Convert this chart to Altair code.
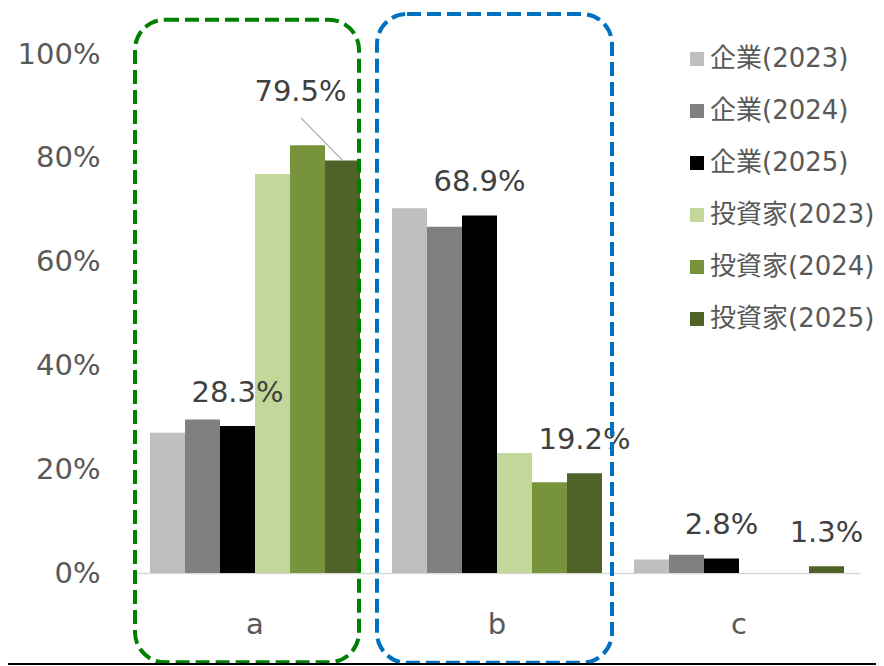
import altair as alt
import pandas as pd

categories = ["a", "b", "c"]
series = ["企業(2023)", "企業(2024)", "企業(2025)", "投資家(2023)", "投資家(2024)", "投資家(2025)"]
colors = ["#BFBFBF", "#808080", "#000000", "#C4D79B", "#77933C", "#4F6228"]

corp_2023 = [0.270, 0.703, 0.026]
corp_2024 = [0.296, 0.667, 0.035]
corp_2025 = [0.283, 0.689, 0.028]
inv_2023 = [0.769, 0.231, 0.0]
inv_2024 = [0.824, 0.175, 0.0]
inv_2025 = [0.795, 0.192, 0.013]

y_ticks = [0, 0.2, 0.4, 0.6, 0.8, 1.0]

series_values = [corp_2023, corp_2024, corp_2025, inv_2023, inv_2024, inv_2025]
rows = []
for s, vals in zip(series, series_values):
    for c, v in zip(categories, vals):
        rows.append({"cat": c, "series": s, "value": v})
df = pd.DataFrame(rows)

FONT = "DejaVu Sans, Noto Sans CJK JP"

x_enc = alt.X("cat:N", sort=categories, title=None,
              scale=alt.Scale(paddingInner=0, paddingOuter=0),
              axis=alt.Axis(labelAngle=0, ticks=False, labelPadding=60,
                            labelBaseline="alphabetic", domainColor="#D9D9D9",
                            domainWidth=1.5, labelFontSize=29, labelColor="#595959",
                            labelFont=FONT))
xoff_enc = alt.XOffset("series:N", sort=series,
                       scale=alt.Scale(paddingInner=0, paddingOuter=0.457))
y_enc = alt.Y("value:Q", title=None,
              scale=alt.Scale(domain=[0, 1], nice=False, zero=True),
              axis=alt.Axis(values=y_ticks, format=".0%", ticks=False, domain=False,
                            grid=False, labelPadding=34, labelFontSize=29,
                            labelColor="#595959", labelFont=FONT))

bars = alt.Chart(df).mark_bar().encode(
    x=x_enc,
    xOffset=xoff_enc,
    y=y_enc,
    color=alt.Color("series:N", sort=series,
                    scale=alt.Scale(domain=series, range=colors),
                    legend=alt.Legend(orient="none", legendX=550, legendY=-8, title=None,
                                      symbolType="square", symbolSize=196,
                                      symbolStrokeWidth=0, symbolOpacity=1,
                                      labelFontSize=26, labelColor="#595959",
                                      labelFont=FONT, rowPadding=26, labelOffset=0,
                                      labelLimit=0, padding=0)),
)

label_series = ["企業(2025)", "投資家(2025)"]
lab_df = df[df["series"].isin(label_series) & ~((df["cat"] == "a") & (df["series"] == "投資家(2025)"))]
labels = alt.Chart(lab_df).mark_text(
    fontSize=29, color="#404040", font=FONT, baseline="alphabetic", dy=-24
).encode(
    x=alt.X("cat:N", sort=categories),
    xOffset=alt.XOffset("series:N", sort=series),
    y="value:Q",
    text=alt.Text("value:Q", format=".1%"),
)

special_df = df[(df["cat"] == "a") & (df["series"] == "投資家(2025)")]
special_label = alt.Chart(special_df).mark_text(
    fontSize=29, color="#404040", font=FONT, baseline="alphabetic", dx=-42, dy=-59
).encode(
    x=alt.X("cat:N", sort=categories),
    xOffset=alt.XOffset("series:N", sort=series),
    y="value:Q",
    text=alt.Text("value:Q", format=".1%"),
)
leader = alt.Chart(special_df).mark_rule(color="#A6A6A6", strokeWidth=1.2).encode(
    x=alt.X("cat:N", sort=categories),
    xOffset=alt.XOffset("series:N", sort=series),
    y="value:Q",
    x2=alt.value(167),
    y2=alt.datum(0.877),
)

green_box = alt.Chart(pd.DataFrame({"cat": ["a"]})).mark_rect(
    fillOpacity=0, stroke="#008000", strokeWidth=4, strokeDash=[14, 6],
    cornerRadius=30, width=224, xOffset=-8
).encode(
    x=alt.X("cat:N", sort=categories),
    y=alt.datum(1.066),
    y2=alt.datum(-0.172),
)
blue_box = alt.Chart(pd.DataFrame({"cat": ["b"]})).mark_rect(
    fillOpacity=0, stroke="#0070C0", strokeWidth=4, strokeDash=[14, 6],
    cornerRadius=30, width=235, xOffset=-2.5
).encode(
    x=alt.X("cat:N", sort=categories),
    y=alt.datum(1.077),
    y2=alt.datum(-0.173),
)

bottom_line = alt.Chart(pd.DataFrame({"cat": ["a"]})).mark_rule(color="black", strokeWidth=2).encode(
    x=alt.value(-126), x2=alt.value(742), y=alt.value(610)
)

chart = alt.layer(bars, labels, special_label, leader, green_box, blue_box, bottom_line).properties(
    width=726, height=519,
    padding={"left": 126, "top": 46, "right": 16, "bottom": 93},
    autosize=alt.AutoSizeParams(type="none"),
).configure_view(stroke=None)

chart.save("out.html", embed_options={"renderer": "svg", "actions": False})
